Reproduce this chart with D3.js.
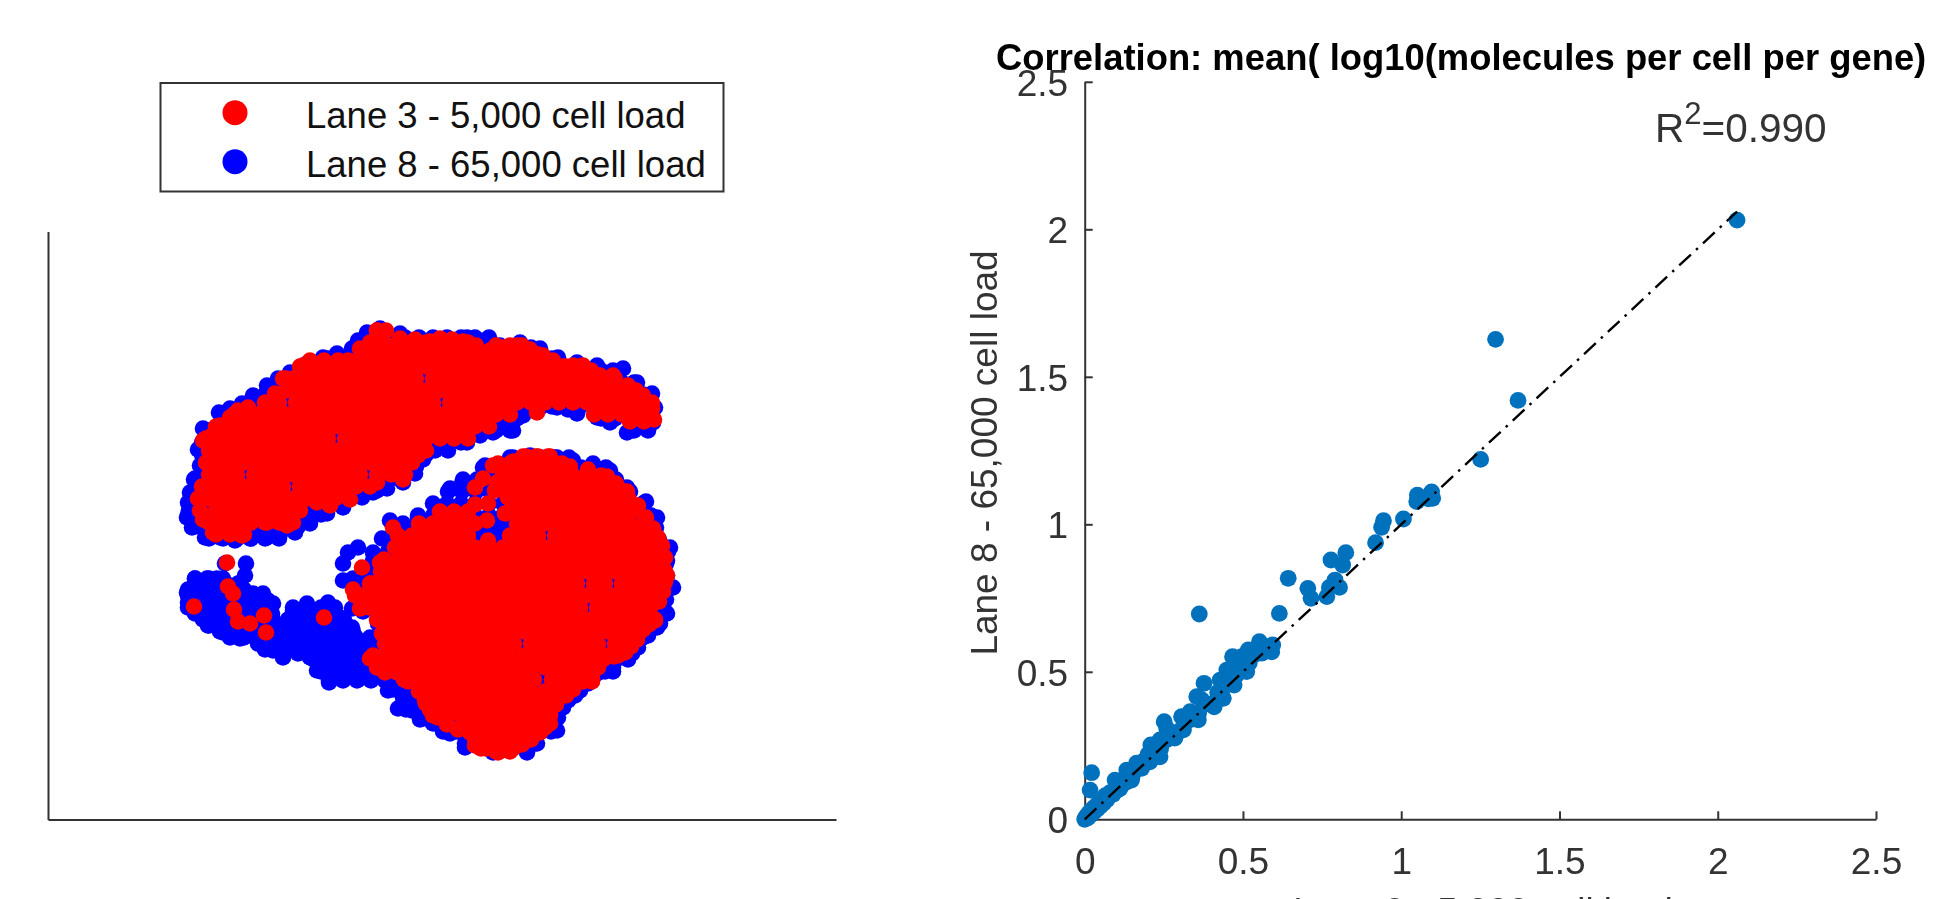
<!DOCTYPE html>
<html><head><meta charset="utf-8">
<script src="https://cdn.jsdelivr.net/npm/d3@7"></script>
<style>html,body{margin:0;padding:0;background:#fff;overflow:hidden}svg{display:block;filter:blur(0.6px)}text{font-family:"Liberation Sans",Arial,sans-serif}</style>
</head><body>
<script>
// ---- Data ----
const legendLabels = ["Lane 3 - 5,000 cell load", "Lane 8 - 65,000 cell load"];
const titleText = "Correlation: mean( log10(molecules per cell per gene)";
const xLabelText = "Lane 3 - 5,000 cell load";
const yLabelText = "Lane 8 - 65,000 cell load";
const corrTicks = [0, 0.5, 1, 1.5, 2, 2.5];
const fitLine = [[0, 0], [2.061, 2.06]];

// t-SNE embedding, arbitrary units: Lane 8 points
const lane8Upper = [[141,309],[142,327],[152,354],[155,391],[171,407],[194,416],[219,434],[242,447],[275,462],[304,471],[319,487],[332,491],[352,486],[372,481],[144,292],[157,282],[187,279],[219,282],[247,287],[279,306],[314,322],[339,331],[367,346],[139,302],[172,282],[202,281],[232,286],[262,296],[295,312],[325,327],[355,337],[182,411],[205,424],[230,441],[259,456],[289,466],[310,479],[146,340],[150,370],[392,479],[419,482],[432,479],[452,474],[472,477],[492,471],[510,462],[529,457],[549,454],[575,451],[589,437],[604,426],[607,412],[605,397],[595,392],[579,387],[562,397],[549,402],[529,406],[509,412],[492,412],[475,404],[465,389],[445,387],[432,384],[419,377],[400,369],[387,369],[562,445],[520,410],[460,398],[452,392],[375,360]];
const lane8UpperRows = [
[281,161,175,189,203,217,231],
[293,147,154,168,182,196,210,224,238,250],
[305,140,147,161,175,189,203,217,231,245,259,273],
[317,140,154,168,182,196,210,224,238,252,266,280,294],
[329,147,161,175,189,203,217,231,245,259,273,287,301,315,329],
[341,147,154,168,182,196,210,224,238,252,266,280,294,308,322,336,350],
[353,154,161,175,189,203,217,231,245,259,273,287,301,315,329,343,357,368],
[365,154,168,182,196,210,224,238,252,266,280,294,308,322,336,350,364,378],
[377,154,161,175,189,203,217,231,245,259,273,287,301,315,329,343,357,371,385,399,413],
[389,161,168,182,196,210,224,238,252,266,280,294,308,322,336,350,364,378,392,406,420,434,448,462,586,600],
[401,175,189,203,217,231,245,259,273,287,301,315,329,343,357,371,385,399,413,427,441,455,469,553,567,581,595,604],
[413,196,210,224,238,252,266,280,294,308,322,336,350,364,378,392,406,420,434,448,462,476,490,504,518,532,546,560,574,588,602],
[425,217,231,245,259,273,287,301,315,329,343,357,371,385,399,413,427,441,455,469,483,497,511,525,539,553,567,581,595],
[437,238,252,266,280,294,308,322,336,350,364,378,392,406,420,434,448,462,476,490,504,518,532,546,560,574,586],
[449,252,259,273,287,301,315,329,343,357,371,385,399,413,427,441,455,469,483,497,511,525,539,553,565],
[461,280,294,308,322,336,350,364,378,392,406,420,434,448,462,476,490,504],
[472,315,329,343,357,371,385,399,413,427,441,455,469,483],
[482,329,343,357,371,385,399,413,427,441]];
const lane8LowerRows = [
[76,417,431,445,459,473,487],
[88,403,417,431,445,459,473,487,503],
[100,389,403,417,431,445,459,473,487,501,508],
[112,375,389,403,417,431,445,459,473,487,501,515],
[124,361,375,389,403,417,431,445,459,473,487,501,515,527],
[136,343,357,371,385,399,413,427,441,455,469,483,497,511,525,540],
[148,333,347,361,375,389,403,417,431,445,459,473,487,501,515,529,543,557,565],
[160,330,344,358,372,386,400,414,428,442,456,470,484,498,512,526,540,554,568,580],
[172,330,344,358,372,386,400,414,428,442,456,470,484,498,512,526,540,554,568,582,590],
[184,335,349,363,377,391,405,419,433,447,461,475,489,503,517,531,545,559,573,587,600],
[196,330,344,358,372,386,400,414,428,442,456,470,484,498,512,526,540,554,568,582,596,612],
[208,315,329,343,357,371,385,399,413,427,441,455,469,483,497,511,525,539,553,567,581,595,609,617],
[220,310,324,338,352,366,380,394,408,422,436,450,464,478,492,506,520,534,548,562,576,590,604,618],
[232,315,329,343,357,371,385,399,413,427,441,455,469,483,497,511,525,539,553,567,581,595,609,623],
[244,325,339,353,367,381,395,409,423,437,451,465,479,493,507,521,535,549,563,577,591,605,619],
[256,330,344,358,372,386,400,414,428,442,456,470,484,498,512,526,540,554,568,582,596,610,618],
[268,340,354,368,382,396,410,424,438,452,466,480,494,508,522,536,550,564,578,592,606,620],
[280,345,359,373,387,401,415,429,443,457,471,485,499,513,527,541,555,569,583,597,611],
[292,350,364,378,392,406,420,434,448,462,476,490,504,518,532,546,560,574,588,602,608],
[304,370,385,399,413,427,441,455,469,483,497,511,525,539,553,567,581,595,603],
[316,385,399,413,427,441,455,469,483,497,511,525,539,553,567,581,595],
[328,400,414,428,442,456,470,484,498,512,526,540,554,568,582],
[340,415,429,443,457,471,485,499,513,527,541,555,568],
[352,435,449,463,477,491,505,519,533,547,558],
[362,465,479,493,507,521]];
const lane8Lower = [[402,331],[414,336],[437,354],[462,362],[482,364],[509,362],[525,359],[545,356],[562,349],[579,332],[598,318],[609,302],[622,272],[615,259],[619,259],[625,232],[619,206],[609,192],[595,182],[584,166],[565,152],[549,146],[532,129],[520,119],[510,102],[509,89],[489,76],[479,67],[460,69],[445,67],[417,72],[402,86],[389,96]];
const lane8TailRows = [
[241,147,161,175],
[236,150,164,178,190],
[230,140,154,168,182,196],
[226,205,215],
[224,140,154,168,182,196,210],
[218,147,161,175,189,203,217],
[216,225],
[212,140,154,168,182,196,210,222,245,259,273,287],
[206,147,154,168,182,196,210,224,245,259,273,287],
[200,155,169,183,197,211,225,240,254,268,282,296],
[194,161,175,189,203,217,231,245,259,273,287,297],
[188,172,186,200,214,235,249,263,277,291,305],
[182,182,196,210,224,238,252,266,280,294,308,322],
[170,217,231,245,259,273,287,301,315,329],
[160,266,280,294,308,322,336],
[148,273,287,301,315,329,343],
[139,281,295,309,323,337],
[130,345,359,373],
[110,358,372,386],
[100,372,386],
[88,395,409]];
const lane8Tail = [[139,227],[147,241],[159,241],[169,241],[140,217],[150,206],[160,194],[175,187],[192,181],[210,176],[225,169],[235,162],[198,256],[197,244],[177,256],[204,222],[220,219],[245,209],[259,216],[280,217],[292,202],[304,192],[239,182],[250,166],[262,162],[269,149],[281,137],[297,141],[312,141],[295,256],[300,267],[310,272],[325,267],[334,281],[342,299],[355,296],[370,302],[295,239],[305,241],[325,259],[342,272],[304,211],[317,222],[349,287],[319,242],[340,129],[350,111],[364,109],[375,101],[355,122],[339,139],[369,119],[385,96]];

// Lane 3 points, one row per second coordinate: [y, x, x, x ...]
const lane3UpperRows = [
[285,168,182,196],
[297,161,175,189,203,217,231,245],
[309,152,168,182,196,210,224,238,252],
[321,150,161,175,189,203,217,231,245,259,273,287,301],
[333,154,168,182,196,210,224,235,252,266,280,294,308,322],
[345,161,175,189,206,217,231,245,259,273,287,301,312,329,343,357],
[357,158,168,182,196,210,224,238,252,266,280,294,308,322,336,350,364],
[369,161,175,189,203,217,231,245,259,273,287,301,315,329,343,357,371,378],
[381,158,168,182,196,210,224,238,252,266,280,297,308,322,336,350,364,378,392,406,420],
[393,168,175,189,203,217,231,245,259,273,287,301,315,329,343,357,371,385,399,413,427,441],
[405,186,196,210,224,238,252,266,280,294,308,322,336,350,364,378,392,406,420,434,448,462,546,560,574,588,602],
[417,217,231,248,259,273,287,301,315,329,343,357,371,385,402,413,427,441,455,469,483,497,511,525,539,553,567,581,595,604],
[429,238,252,266,280,294,308,322,336,350,364,378,392,406,420,434,448,462,476,490,504,518,532,546,560,574,588],
[441,238,245,259,273,287,301,315,329,343,357,368,385,399,413,427,441,455,469,483,497,511,525,539,553,567],
[453,252,266,280,294,308,322,336,350,364,378,392,406,420,434,448,462,476,490,504,518,532],
[459,262,276,290,300],
[465,315,329,343,357,371,385,399,413,427,441,455,469,483,490],
[474,448,462,474],
[477,322,336,350,364,378,392,406,420],
[489,329,338]];
const lane3UpperEdge = [[352,481],[367,480],[382,478],[392,481],[404,480],[415,478],[428,474],[442,469],[455,472],[469,474],[482,470],[495,464],[505,459],[515,453],[525,454],[535,454],[543,449],[552,444],[565,444],[580,434],[595,424],[604,411],[227,426],[235,441],[255,454],[282,454],[304,458],[312,471],[329,489],[155,300],[165,287],[194,284],[219,297],[239,294],[269,317],[282,314],[302,320],[329,337],[355,340],[370,364]];
const lane3LowerRows = [
[68,448,462],
[80,427,441,455,469,483],
[92,420,434,448,462,476,490,497],
[104,385,399,413,427,441,455,469,483,497,502],
[116,378,392,406,420,434,448,462,476,490,504],
[128,371,385,399,413,427,441,455,469,483,497,511,518],
[140,356,364,378,392,406,420,434,448,462,476,486,504,518,532,544],
[152,329,343,357,371,385,399,413,427,441,455,469,483,497,511,525,539,547],
[164,325,336,350,364,378,392,406,420,434,448,462,476,490,504,518,532,546,560,570],
[176,337,343,357,371,385,399,413,427,441,455,466,483,497,511,525,539,550,567,581],
[188,336,350,364,378,392,406,420,434,448,462,476,490,504,518,532,546,560,574,588,592],
[200,329,343,357,371,385,399,413,427,441,455,469,483,497,511,525,539,553,567,581,595,607],
[212,315,322,336,350,364,378,392,406,420,434,448,462,476,490,504,518,532,549,560,574,588,602],
[224,307,315,329,343,357,371,385,399,413,427,441,455,469,483,497,511,525,539,553,567,581,595,609],
[236,322,336,350,364,378,392,406,420,434,448,462,476,490,504,518,529,546,557,574,588,602,616],
[248,333,343,357,371,385,399,413,427,441,455,469,483,497,511,525,539,553,567,581,595,609,617],
[260,336,350,364,378,392,406,420,434,448,462,476,490,504,518,532,546,560,574,588,602],
[272,347,357,371,385,399,413,427,441,455,469,483,497,511,525,539,553,567,581,595,609],
[284,350,364,378,392,406,420,462,476,490,507,518,532,546,560,574,588,602],
[296,371,385,399,413,427,469,483,497,511,525,539,553,567,581,595],
[308,392,406,420,462,476,490,504,518,532,546,560,574,584],
[320,469,483,497,511,525,539,553,567,581],
[332,462,476,490,504,518,532,546,560,570],
[344,455,469,483,497,511,525,539,553],
[356,462,476,490,504,514],
[363,478,490,500]];
const lane3LowerEdge = [[445,354],[465,358],[475,363],[488,363],[502,363],[522,353],[540,350],[559,343],[568,336],[579,328],[590,314],[598,302],[605,291],[610,282],[614,274],[617,262],[616,250],[617,238],[615,228],[611,218],[607,199],[601,195],[595,190],[589,180],[583,173],[577,167],[566,163],[555,160],[550,152],[544,145],[535,138],[525,130],[515,124],[508,115],[502,106],[502,96],[497,95],[492,87],[483,81],[474,75],[461,71],[449,69],[438,71],[427,74],[422,87],[410,90],[399,95],[390,102],[382,110],[377,119],[372,129],[360,138],[349,147]];
const lane3Dots = [[155,379],[164,384],[182,402],[172,394],[190,409],[200,412],[489,407],[582,398],[596,398],[606,400],[427,332],[435,341],[450,356],[449,337],[447,329],[427,315],[440,316],[439,299],[457,306],[440,279],[460,322],[456,332],[179,257],[314,252],[332,257],[305,230],[180,233],[185,226],[186,210],[190,198],[202,196],[216,204],[218,187],[146,213],[276,202],[322,161],[337,147],[334,186],[345,292],[312,211],[324,236],[544,138],[518,124],[609,262],[619,244],[433,71],[450,67],[465,71]];

// Correlation panel: mean log10 expression in the two lanes
const corrX = [2.061,1.298,1.369,1.251,1.096,1.051,1.0995,1.049,1.086,1.007,0.944,0.938,0.919,0.825,0.778,0.815,0.791,0.805,0.773,0.765,0.705,0.715,0.643,0.615,0.362,0.594,0.591,0.559,0.552,0.517,0.496,0.467,0.512,0.475,0.449,0.472,0.428,0.438,0.409,0.377,0.354,0.370,0.359,0.306,0.333,0.251,0.259,0.285,0.312,0.209,0.238,0.238,0.206,0.164,0.180,0.133,0.148,0.096,0.112,0.070,0.022,0.017,0,0.005,0.01,0.012,0.02,0.02,0.03,0.03,0.04,0.04,0.05,0.05,0.06,0.065,0.07,0.08,0.09,0.10,0.105,0.12,0.13,0.14,0.15,0.17,0.19,0.20,0.22,0.24,0.26,0.28,0.30,0.32,0.34,0.36,0.38,0.40,0.42,0.44,0.46,0.48,0.50,0.52,0.54,0.56,0.58];
const corrY = [2.031,1.627,1.420,1.220,1.110,1.099,1.088,1.077,1.086,1.018,1.012,0.990,0.938,0.904,0.879,0.862,0.811,0.786,0.786,0.755,0.783,0.749,0.817,0.698,0.696,0.591,0.568,0.563,0.602,0.574,0.551,0.551,0.501,0.512,0.506,0.455,0.472,0.410,0.381,0.461,0.416,0.405,0.337,0.348,0.365,0.331,0.308,0.275,0.303,0.252,0.269,0.212,0.195,0.190,0.173,0.167,0.133,0.133,0.105,0.066,0.158,0.099,0,0.01,0.005,0.02,0.015,0.03,0.025,0.04,0.035,0.05,0.045,0.06,0.055,0.08,0.07,0.09,0.085,0.115,0.10,0.13,0.125,0.155,0.145,0.175,0.20,0.22,0.23,0.24,0.27,0.29,0.30,0.33,0.34,0.36,0.39,0.39,0.43,0.45,0.48,0.49,0.52,0.53,0.56,0.57,0.585];

// ---- Drawing ----
const W = 1946, H = 899;
const svg = d3.select("body").append("svg").attr("width", W).attr("height", H);
const INK = "#333", RED = "#ff0000", BLUE = "#0000ff", DOT = "#0072BD";

// Left panel
const sx = d3.scaleLinear().domain([0, 788]).range([48, 836]);
const sy = d3.scaleLinear().domain([0, 588]).range([819.5, 231.5]);
const expand = rows => rows.flatMap(r => r.slice(1).map(x => [x, r[0]]));
const lane8 = [...expand(lane8UpperRows), ...expand(lane8LowerRows), ...expand(lane8TailRows), ...lane8Upper, ...lane8Lower, ...lane8Tail];
const lane3 = [...expand(lane3UpperRows), ...lane3UpperEdge, ...expand(lane3LowerRows), ...lane3LowerEdge, ...lane3Dots];
const left = svg.append("g");
const drawCloud = (pts, col) => left.append("g").attr("fill", col).selectAll("circle").data(pts).join("circle")
  .attr("cx", d => sx(d[0])).attr("cy", d => sy(d[1])).attr("r", 8.3);
drawCloud(lane8, BLUE);
drawCloud(lane3, RED);
const styleAxis = g => { g.selectAll("path,line").attr("stroke", INK).attr("stroke-width", 2);
  g.selectAll("text").attr("fill", INK).attr("font-size", 37).attr("font-family", '"Liberation Sans",Arial,sans-serif'); };
left.append("g").attr("transform", "translate(0,819.5)").call(d3.axisBottom(sx).tickValues([]).tickSize(0)).call(styleAxis);
left.append("g").attr("transform", "translate(48,0)").call(d3.axisLeft(sy).tickValues([]).tickSize(0)).call(styleAxis);

// Legend
const legend = svg.append("g");
legend.append("rect").attr("x", 160.5).attr("y", 83).attr("width", 563).attr("height", 108.5)
  .attr("fill", "#fff").attr("stroke", INK).attr("stroke-width", 2);
[RED, BLUE].forEach((c, i) => {
  legend.append("circle").attr("cx", 235).attr("cy", 112.7 + i * 49).attr("r", 12.5).attr("fill", c);
  legend.append("text").attr("x", 306).attr("y", 128 + i * 49).attr("font-size", 36.5).attr("fill", "#111").text(legendLabels[i]);
});

// Right panel
const cx = d3.scaleLinear().domain([0, 2.5]).range([1084.7, 1876]);
const cy = d3.scaleLinear().domain([0, 2.5]).range([819.3, 81.8]);
const right = svg.append("g");
const fmt = d => String(d);
right.append("g").attr("transform", "translate(0,819.3)")
  .call(d3.axisBottom(cx).tickValues(corrTicks).tickFormat(fmt).tickSizeInner(-8).tickSizeOuter(0).tickPadding(28)).call(styleAxis);
right.append("g").attr("transform", "translate(1084.7,0)")
  .call(d3.axisLeft(cy).tickValues(corrTicks).tickFormat(fmt).tickSizeInner(-8).tickSizeOuter(0).tickPadding(16.5)).call(styleAxis)
  .selectAll("text").attr("dy", "0.36em");
right.append("g").attr("fill", DOT).selectAll("circle").data(corrX.map((x, i) => [x, corrY[i]])).join("circle")
  .attr("cx", d => cx(d[0])).attr("cy", d => cy(d[1])).attr("r", 8.4);
right.append("path").datum(fitLine).attr("fill", "none").attr("stroke", "#000").attr("stroke-width", 2.4)
  .attr("stroke-dasharray", "16 7 2.5 7")
  .attr("d", d3.line().x(d => cx(d[0])).y(d => cy(d[1])));

svg.append("text").attr("x", 996).attr("y", 70).attr("font-size", 36.4).attr("font-weight", "bold").attr("fill", "#000").text(titleText);
const r2 = svg.append("text").attr("x", 1655).attr("y", 141.7).attr("font-size", 40.5).attr("fill", INK);
r2.append("tspan").text("R");
r2.append("tspan").attr("font-size", 31).attr("dy", -18).text("2");
r2.append("tspan").attr("dy", 18).text("=0.990");
svg.append("text").attr("x", 1483).attr("y", 923.5).attr("text-anchor", "middle").attr("font-size", 36.5).attr("fill", INK).text(xLabelText);
svg.append("text").attr("transform", "translate(997,453) rotate(-90)").attr("text-anchor", "middle").attr("font-size", 37).attr("fill", INK).text(yLabelText);
</script>
</body></html>
